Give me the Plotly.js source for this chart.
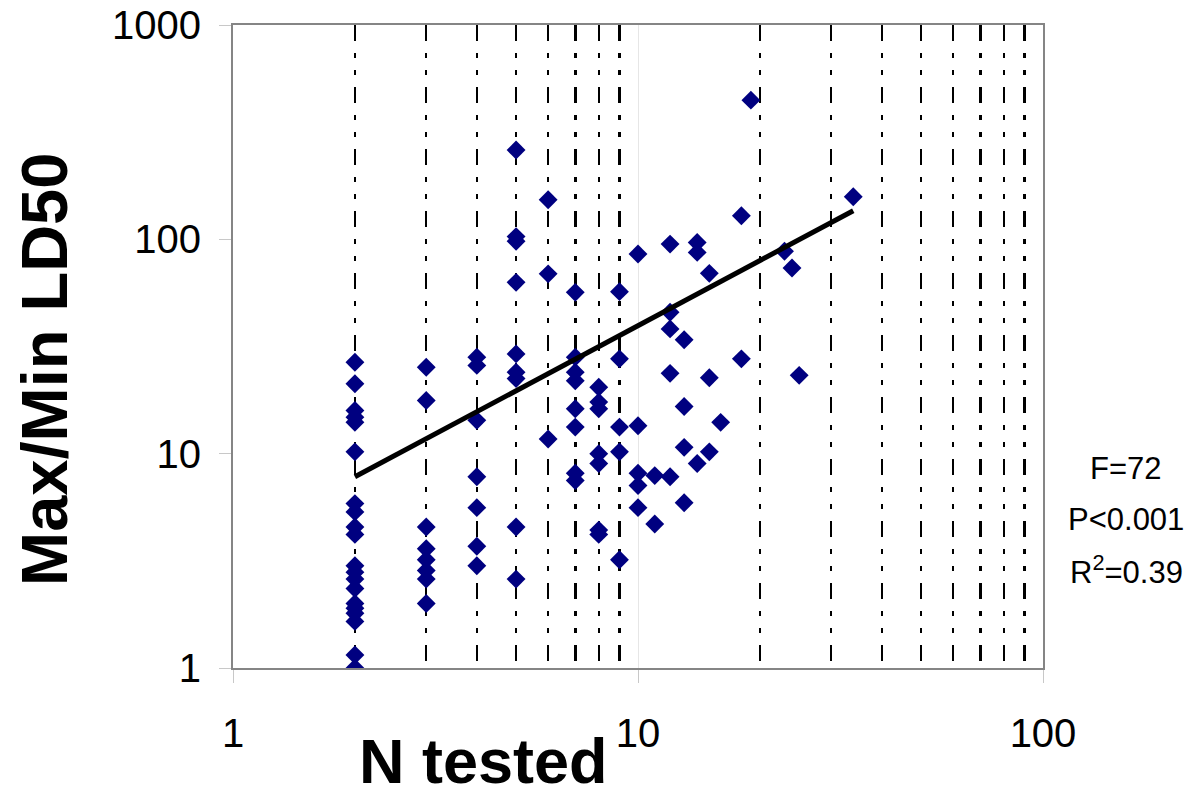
<!DOCTYPE html>
<html>
<head>
<meta charset="utf-8">
<script src="https://cdn.plot.ly/plotly-3.0.1.min.js"></script>
<style>
  html, body { margin: 0; padding: 0; background: #fff; }
  #chart { width: 1201px; height: 795px; }
</style>
</head>
<body>
<div id="chart"></div>
<script>
// N tested (x) and Max/Min LD50 (y) for each case
const nTested = [
  2,2,2,2,2,2,2,2,2,2,2,2,2,2,2,2,2,2,2,2,
  3,3,3,3,3,3,3,3,
  4,4,4,4,4,4,4,
  5,5,5,5,5,5,5,5,5,
  6,6,6,
  7,7,7,7,7,7,7,7,
  8,8,8,8,8,8,8,
  9,9,9,9,9,
  10,10,10,10,10,
  11,11,
  12,12,12,12,12,
  13,13,13,13,
  14,14,14,
  15,15,15,
  16,
  18,18,
  19,
  23,
  24,
  25,
  34
];
const maxMinLD50 = [
  26.7,21.2,15.9,14.8,14.0,10.2,5.85,5.35,4.55,4.2,3.0,2.8,2.6,2.35,2.0,1.9,1.8,1.65,1.15,1.0,
  25.3,17.7,4.55,3.6,3.2,2.85,2.6,2.0,
  28.2,25.8,14.3,7.8,5.6,3.7,3.0,
  261,103,98,63,29.2,24.0,22.4,4.55,2.6,
  153,69,11.7,
  56.6,28.2,24,21.9,16.2,13.3,8.1,7.5,
  20.4,17.4,16.2,10,9.0,4.4,4.2,
  57,27.7,13.3,10.2,3.2,
  85.4,13.5,8.1,7.1,5.6,
  7.9,4.7,
  95,45.7,38.2,23.7,7.8,
  34,16.6,10.7,5.9,
  96.7,86.9,9.0,
  69.4,22.6,10.2,
  14.0,
  128.8,27.7,
  446,
  88,
  73.5,
  23.2,
  158
];
// Power trend line end points
const trendX = [2, 34];
const trendY = [7.8, 136];

// Statistics text
const statLines = ["F=72", "P<0.001", "R<sup>2</sup>=0.39"];
const xTitle = "N tested";
const yTitle = "Max/Min LD50";

const FONT = "Liberation Sans, Arial, Helvetica, sans-serif";

const traces = [
  {
    x: nTested, y: maxMinLD50, type: 'scatter', mode: 'markers',
    marker: { symbol: 'diamond', size: 14.5, color: '#000080', line: { width: 0 } },
    hoverinfo: 'skip', showlegend: false
  },
  {
    x: trendX, y: trendY, type: 'scatter', mode: 'lines',
    line: { color: '#000000', width: 5 },
    hoverinfo: 'skip', showlegend: false
  }
];

const statY = [468, 519, 570];
const annotations = statLines.map((t, i) => ({
  text: t, xref: 'paper', yref: 'paper',
  x: (1126 - 233) / (1043 - 233), y: (668 - statY[i]) / (668 - 25),
  xanchor: 'center', yanchor: 'middle', showarrow: false,
  font: { family: FONT, size: 31, color: '#000' }
}));
annotations.push({
  text: '<b>' + xTitle + '</b>', xref: 'paper', yref: 'paper',
  x: (483 - 233) / (1043 - 233), y: (668 - 761) / (668 - 25),
  xanchor: 'center', yanchor: 'middle', showarrow: false,
  font: { family: FONT, size: 63, color: '#000' }
});
annotations.push({
  text: '<b>' + yTitle + '</b>', xref: 'paper', yref: 'paper',
  x: (44 - 233) / (1043 - 233), y: (668 - 370) / (668 - 25),
  xanchor: 'center', yanchor: 'middle', showarrow: false, textangle: -90,
  font: { family: FONT, size: 65, color: '#000' }
});

const layout = {
  width: 1201, height: 795,
  margin: { l: 233, r: 158, t: 25, b: 127, pad: 0 },
  paper_bgcolor: '#ffffff', plot_bgcolor: '#ffffff',
  font: { family: FONT, color: '#000' },
  showlegend: false,
  hovermode: false,
  xaxis: {
    type: 'log', range: [0, 2], dtick: 1,
    showgrid: true, gridcolor: '#e6e6e6', gridwidth: 1,
    ticks: 'outside', ticklen: 13, tickwidth: 1, tickcolor: '#c8c8c8',
    showline: true, mirror: true, linecolor: '#858585', linewidth: 2,
    zeroline: false,
    tickfont: { family: FONT, size: 40, color: '#000' },
    ticklabelstandoff: 16,
    minor: {
      dtick: 'D1', showgrid: true, gridcolor: '#000000', gridwidth: 2.5,
      griddash: '16px,12px,5px,12px,5px,12px', ticks: ''
    }
  },
  yaxis: {
    type: 'log', range: [0, 3], dtick: 1,
    showgrid: false,
    ticks: 'outside', ticklen: 12, tickwidth: 1, tickcolor: '#c8c8c8',
    showline: true, mirror: true, linecolor: '#858585', linewidth: 2,
    zeroline: false,
    tickfont: { family: FONT, size: 40, color: '#000' },
    ticklabelstandoff: 10
  },
  annotations: annotations
};

Plotly.newPlot('chart', traces, layout, { displayModeBar: false, staticPlot: true });
</script>
</body>
</html>
